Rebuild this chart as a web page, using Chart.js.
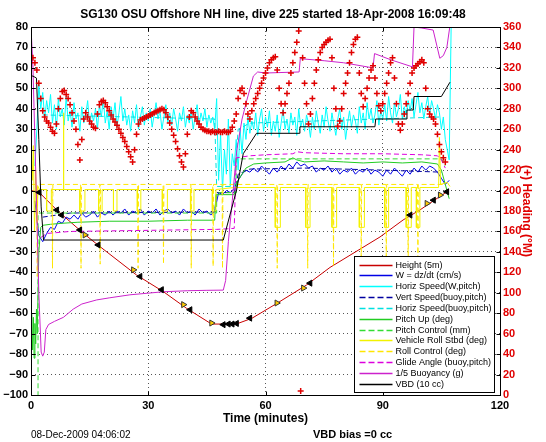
<!DOCTYPE html>
<html>
<head>
<meta charset="utf-8">
<title>SG130 dive 225</title>
<script src="https://cdn.jsdelivr.net/npm/chart.js@4.4.1/dist/chart.umd.min.js"></script>
<style>
  html, body { margin: 0; padding: 0; background: #fff; }
</style>
</head>
<body>
<canvas id="myChart" width="546" height="442"></canvas>
<script>
// x axis (minutes)
var xTicks = [0, 30, 60, 90, 120];

// Height (5m)
var heightT = [0.3, 2.1, 6.6, 13.4, 17.7, 27.0, 33.9, 39.8, 46.2, 52.5, 56.5, 62.9, 70.5, 76.5, 89.3, 95.2, 99.5, 106.4];
var heightV = [0, -0.9, -9.5, -20.9, -27.5, -41.3, -49.5, -57.6, -65.3, -65.3, -62.5, -55.2, -46.2, -37.6, -22.7, -14.4, -9.5, -0.6];

// triangle marks on the height trace
var blackMarkT = [2.1, 6.6, 7.8, 12.5, 17.2, 27.9, 33.4, 40.7, 49.2, 50.5, 51.5, 52.6, 56.0, 71.4, 97.0, 103.0, 106.4];
var blackMarkV = [-0.9, -9.5, -12, -19.3, -26.6, -42, -48.5, -58.3, -65.6, -65.3, -65.3, -65, -62.4, -45.3, -12, -4.7, -0.6];
var yellowMarkT = [13.8, 26.2, 39.0, 46.2, 62.9, 69.7, 101.3, 104.7];
var yellowMarkV = [-21.7, -38.8, -55.8, -64.8, -55, -47.7, -6.3, -2.2];

// W = dz/dt (cm/s), one sample per minute from t=1
var wStart = 1, wStep = 1;
var wVals = [
  -5, -22, -25, -21, -18, -19, -15, -16, -13, -14,
  -12, -14, -11, -13, -12, -10, -13, -11, -12, -10,
  -12, -10, -11, -9, -12, -10, -11, -9, -12, -10,
  -11, -9, -12, -10, -9, -11, -10, -12, -9, -11,
  -10, -12, -9, -11, -10, -12, -10,
  -1, -2, 0, -1, 1,
  5, 8, 10, 9, 11, 9, 12, 10,
  8, 11, 9, 12, 10, 13, 11, 14, 12, 13,
  11, 12, 9, 11, 10, 12, 9, 11, 8, 10,
  9, 11, 8, 10, 9, 11, 8, 10, 9, 7,
  10, 8, 11, 9, 7, 10, 8, 11, 9, 12,
  10, 12, 11, 9, 6, 3, 5
];

// Horiz Speed(W,pitch), every half minute from t=1
var hsStart = 1, hsStep = 0.5;
var horizSpeedW = [
  12, 30, 52, 40, 48, 35, 44, 38, 47, 33,
  42, 30, 45, 36, 40, 32, 46, 34, 39, 31,
  43, 35, 38, 29, 41, 33, 37, 44, 32, 38,
  34, 40, 30, 42, 36, 45, 33, 39, 30, 41,
  35, 43, 31, 38, 46, 34, 40, 32, 37, 29,
  39, 33, 42, 30, 36, 41, 32, 38, 34, 40,
  31, 37, 43, 35, 39, 30, 36, 42, 33, 38,
  32, 40, 35, 29, 38, 34, 41, 31, 37, 33,
  39, 30, 36, 42, 32, 38, 34, 40, 31, 37,
  33, 36, 30,
  45, 5, 28, 0, 20, 8, 35, 2, 18,
  12, 25, 10, 30, 18, 33, 25, 36, 28, 34,
  30, 38, 27, 35, 40, 29, 36, 31, 39, 27,
  34, 29, 37, 26, 33, 40, 30, 35, 28, 38,
  32, 36, 27, 40, 31, 35, 29, 37, 33, 26,
  36, 30, 39, 33, 28, 37, 31, 41, 34, 29,
  38, 32, 27, 35, 40, 30, 36, 25, 33, 39,
  31, 37, 34, 28, 41, 33, 38, 30, 43, 35,
  40, 33, 37, 44, 32, 39, 35, 42, 34, 46,
  38, 33, 43, 36, 40, 47, 35, 41, 37, 44,
  39, 45, 36, 42, 48, 38, 43, 35, 41, 46,
  37, 44, 40, 35, 42, 38, 30, 36, 25, 20,
  15, 80
];

// Vert Speed(buoy,pitch)
var vertBuoyT = [3, 10, 47, 47.5, 52, 53, 56, 70, 90, 105];
var vertBuoyV = [-13, -11, -10.5, -1, -1, 8, 10.5, 11, 10, 9];

// Horiz Speed(buoy,pitch)
var horizBuoyT = [3, 47, 47.5, 52, 53, 56, 105];
var horizBuoyV = [37, 35, 2, 2, 30, 33, 36];

// Pitch Up (deg)
var pitchT = [0.2, 0.4, 0.6, 0.8, 1.0, 1.2, 1.4, 1.6, 2.0, 2.5, 3, 5, 8, 12, 20, 30, 40, 47, 47.3, 52, 53, 55, 57, 60, 65, 67, 68, 70, 75, 80, 85, 90, 95, 100, 104, 105, 106, 107];
var pitchV = [-60, -78, -62, -82, -65, -75, -58, -70, -30, -18, -17, -16.5, -16, -15.5, -15, -15, -14.5, -14.5, -2, -2, 5, 11, 13, 13.5, 14, 16, 15, 14, 14.5, 14, 13.5, 14, 13.5, 14, 13, 10, 3, -4];

// Pitch Control (mm)
var pitchCtrlT = [0, 1.8, 1.8, 47.5, 47.5, 52.5, 52.5, 105, 106];
var pitchCtrlV = [-105, -105, -11, -11, -1, -1, 15.5, 15.5, 12];

// Vehicle Roll Stbd (deg)
var rollT = [0, 0.3, 0.6, 0.9, 1.2, 1.5, 1.8, 2.2, 4.0, 4.0, 5.2, 5.2, 8.2, 8.3, 8.4,
  12.5, 12.5, 13.8, 13.8, 17.3, 17.3, 18.2, 18.2, 21.1, 21.1, 22.0, 22.0, 27.2, 27.2, 28.1, 28.1,
  33.6, 33.6, 34.9, 34.9, 40.8, 40.8, 41.7, 41.7, 46.4, 46.4, 47.3, 47.3, 52,
  62.5, 62.5, 63.8, 63.8, 70.3, 70.3, 71.4, 71.4, 77.0, 77.0, 78.2, 78.2, 84.0, 84.0, 85.3, 85.3,
  90.5, 90.5, 91.5, 91.5, 96.0, 96.0, 97.3, 97.3, 98.6, 98.6, 99.5, 99.5,
  104.3, 104.5, 104.8, 106.5, 107.2];
var rollV = [20, 5, 22, -20, 10, -15, 2, 0.5, 0.5, -10, -10, 0.5, 0.5, 38, 0.5,
  0.5, -10, -10, 0.5, 0.5, -10, -10, 0.5, 0.5, -10, -10, 0.5, 0.5, -10, -10, 0.5,
  0.5, -10, -10, 0.5, 0.5, -10, -10, 0.5, 0.5, -10, -10, 0.5, 1.5,
  1.5, -18, -18, 1.5, 1.5, -18, -18, 1.5, 1.5, -18, -18, 1.5, 1.5, -18, -18, 1.5,
  1.5, -18, -18, 1.5, 1.5, -18, -18, 1.5, 1.5, -18, -18, 1.5,
  1.5, 26, 3, 4, 2];

// Roll Control (deg)
var rollCtrlT = [0, 1.5, 1.6, 1.7, 5.4, 5.5, 5.6, 12.7, 12.8, 12.9, 17.6, 17.7, 17.8, 27.3, 27.4, 27.5,
  33.8, 33.9, 34.0, 40.9, 41.0, 41.1, 46.5, 46.6, 46.7, 48.9, 49.0, 49.1,
  62.9, 63.0, 63.1, 70.7, 70.8, 70.9, 77.3, 77.4, 77.5, 84.4, 84.5, 84.6,
  90.8, 90.9, 91.0, 96.4, 96.5, 96.6, 98.9, 99.0, 99.1, 106];
var rollCtrlV = [3, 3, -42, 3, 3, -38, 3, 3, -38, 3, 3, -36, 3, 3, -38, 3,
  3, -36, 3, 3, -38, 3, 3, -37, 3, 3, -38, 3,
  3, -38, 3, 3, -38, 3, 3, -37, 3, 3, -38, 3,
  3, -36, 3, 3, -38, 3, 3, -37, 3, 3];

// Glide Angle (buoy,pitch)
var glideT = [2.5, 4, 10, 47, 47.5, 52, 52.5, 56, 60, 67, 68, 70, 80, 90, 100, 104, 105, 106];
var glideV = [-23, -21, -20, -19, -19, -18.5, 16, 17, 17.5, 18, 19, 18.5, 18, 18, 17.5, 17, 15, 11];

// 1/5 Buoyancy (g)
var buoyT = [0, 0.5, 1.2, 2.0, 2.6, 3.0, 3.4, 3.8, 4.5, 6, 8.3, 10.8, 13, 16.8, 20, 25.3, 33.9, 40, 45, 49.2,
  49.8, 50.5, 51.5, 52.6, 54, 55.2, 56.9, 58, 60, 68.6, 68.9, 75, 80, 87.5, 87.9,
  92, 97.6, 98.0, 100, 102.9, 104.6, 105.5, 106.4, 107.3];
var buoyV = [80, 60, 10, -50, -79, -81, -79, -68, -65.5, -64, -62, -58, -55.5, -53.5, -52.5, -51, -49.5, -49, -48.8, -48.7,
  -44, -25, -5, 19, 35, 44, 56, 58, 57.5, 58, 64.5, 63.5, 62.5, 60, 67,
  64, 60.5, 80, 79.5, 78.5, 64.7, 66, 70, 82];

// VBD (10 cc)
var vbdT = [0, 0.5, 1.4, 2.0, 2.6, 3.2, 49.2, 52.6, 54.3, 57.7, 68.6, 68.8, 88.0, 88.2, 96.0, 96.2, 97.8, 98.0, 105.0, 107.2];
var vbdV = [56, 56, 55, 25, -8, -24.2, -24.2, 0.3, 18, 28, 28, 31.2, 31.2, 35, 35, 39.4, 39.4, 46, 46, 53];

// (+) Heading (deg M), every half minute from t=0.5
var hdgStart = 0.5, hdgStep = 0.5;
var headingDeg = [
  330, 325, 318, 305, 290, 278, 272, 268, 266, 262,
  258, 256, 265, 280, 290, 297, 298, 294, 290, 284,
  276, 268, 260, 245, 230, 250, 270, 276, 272, 268,
  265, 262, 261, 275, 284, 287, 288, 286, 282, 278,
  274, 270, 267, 264, 260, 256, 252, 248, 243, 238,
  233, 228, 240, 255, 265, 269, 270, 271, 272, 273,
  274, 275, 276, 277, 278, 279, 280, 279, 276, 272,
  266, 260, 254, 248, 241, 234, 228, 223, 236, 255,
  272, 278, 276, 272, 268, 265, 262, 260, 259, 258,
  258, 257, 258, 257, 257, 258, 257, 257, 258, 257,
  257, 258, 262, 268, 275, 290, 298, 300, 295, 285,
  275, 270, 278, 285, 290, 295, 300, 305, 310, 315,
  320, 325, 328, 330, 331, 318, 300, 285, 276, 285,
  295, 305, 315, 325, 335, 345, 356, 4, 330, 305,
  285, 265, 275, 290, 305, 318, 328, 335, 340, 343,
  345, 347, 348, 330, 300, 280, 263, 268, 280, 295,
  305, 315, 325, 335, 343, 348, 350, 315, 295, 282,
  290, 300, 310, 318, 322, 310, 295, 283, 278, 285,
  295, 305, 315, 325, 330, 310, 285, 265, 259, 265,
  275, 285, 295, 305, 315, 320, 322, 324, 326, 328,
  325, 300, 280, 275, 272, 270, 265, 255, 245, 238, 232, 228
];

var FONT = '"Liberation Sans", Arial, Helvetica, sans-serif';

function pairs(ts, vs) {
  return ts.map(function (t, i) { return { x: t, y: vs[i] }; });
}
function sampled(start, step, vs) {
  return vs.map(function (v, i) { return { x: start + i * step, y: v }; });
}
function lineSet(label, pts, color, dashed, order) {
  return {
    label: label, data: pts, borderColor: color, backgroundColor: color,
    borderWidth: 1, borderDash: dashed ? [5, 3] : [], pointRadius: 0,
    tension: 0, clip: 0, order: order, inLegend: true
  };
}

var datasets = [
  lineSet('Height (5m)', pairs(heightT, heightV), '#c80000', false, 13),
  lineSet('W = dz/dt (cm/s)', sampled(wStart, wStep, wVals), '#0000e6', false, 12),
  lineSet('Horiz Speed(W,pitch)', sampled(hsStart, hsStep, horizSpeedW), '#00ffff', false, 11),
  lineSet('Vert Speed(buoy,pitch)', pairs(vertBuoyT, vertBuoyV), '#0000a0', true, 10),
  lineSet('Horiz Speed(buoy,pitch)', pairs(horizBuoyT, horizBuoyV), '#00e0e0', true, 9),
  lineSet('Pitch Up (deg)', pairs(pitchT, pitchV), '#22cc22', false, 8),
  lineSet('Pitch Control (mm)', pairs(pitchCtrlT, pitchCtrlV), '#33dd33', true, 7),
  lineSet('Vehicle Roll Stbd (deg)', pairs(rollT, rollV), '#f2f200', false, 6),
  lineSet('Roll Control (deg)', pairs(rollCtrlT, rollCtrlV), '#ffe600', true, 5),
  lineSet('Glide Angle (buoy,pitch)', pairs(glideT, glideV), '#dd00dd', true, 4),
  lineSet('1/5 Buoyancy (g)', pairs(buoyT, buoyV), '#cc22cc', false, 3),
  lineSet('VBD (10 cc)', pairs(vbdT, vbdV), '#000000', false, 2),
  {
    label: 'marks', data: pairs(blackMarkT, blackMarkV), showLine: false,
    pointStyle: 'triangle', pointRotation: -90, pointRadius: 3.5,
    borderColor: '#000', backgroundColor: '#000', borderWidth: 1, clip: 0, order: 1
  },
  {
    label: 'marks2', data: pairs(yellowMarkT, yellowMarkV), showLine: false,
    pointStyle: 'triangle', pointRotation: 90, pointRadius: 3.5,
    borderColor: '#333', backgroundColor: '#ffcc00', borderWidth: 1, clip: 0, order: 1
  },
  {
    label: 'heading', data: sampled(hdgStart, hdgStep, headingDeg), yAxisID: 'y2', showLine: false,
    pointStyle: 'cross', pointRadius: 3, borderColor: '#e00000', backgroundColor: '#e00000',
    borderWidth: 1.5, clip: 0, order: 0
  }
];

// box round the axes, ticks pointing in (matlab look)
var axesBox = {
  id: 'axesBox',
  afterDatasetsDraw: function (chart) {
    var a = chart.chartArea, ctx = chart.ctx;
    var sx = chart.scales.x, sy = chart.scales.y, sy2 = chart.scales.y2;
    var L = Math.round(a.left) + 0.5, R = Math.round(a.right) + 0.5;
    var T = Math.round(a.top) + 0.5, B = Math.round(a.bottom) + 0.5;
    ctx.save();
    ctx.strokeStyle = '#000';
    ctx.lineWidth = 1;
    ctx.beginPath();
    sx.ticks.forEach(function (t) {
      var px = Math.round(sx.getPixelForValue(t.value)) + 0.5;
      ctx.moveTo(px, B); ctx.lineTo(px, B - 4);
      ctx.moveTo(px, T); ctx.lineTo(px, T + 4);
    });
    sy.ticks.forEach(function (t) {
      var py = Math.round(sy.getPixelForValue(t.value)) + 0.5;
      ctx.moveTo(L, py); ctx.lineTo(L + 4, py);
    });
    sy2.ticks.forEach(function (t) {
      var py = Math.round(sy2.getPixelForValue(t.value)) + 0.5;
      ctx.moveTo(R, py); ctx.lineTo(R - 4, py);
    });
    ctx.stroke();
    ctx.strokeRect(L, T, R - L, B - T);
    ctx.restore();
  }
};

// legend box inside the plot, lower right
var legendBox = {
  id: 'legendBox',
  afterDraw: function (chart) {
    var a = chart.chartArea, ctx = chart.ctx;
    var items = chart.data.datasets.filter(function (d) { return d.inLegend; });
    var w = 140, rowH = 10.85;
    var h = Math.round(items.length * rowH + 6);
    var x0 = Math.round(a.right - 146) + 0.5, y0 = Math.round(a.bottom - 3 - h) + 0.5;
    ctx.save();
    ctx.fillStyle = '#fff';
    ctx.fillRect(x0, y0, w, h);
    ctx.strokeStyle = '#000';
    ctx.lineWidth = 1;
    ctx.strokeRect(x0, y0, w, h);
    ctx.font = '9px ' + FONT;
    ctx.textBaseline = 'middle';
    ctx.textAlign = 'left';
    items.forEach(function (d, i) {
      var y = Math.round(y0 + 8 + i * rowH) + 0.5;
      ctx.beginPath();
      ctx.setLineDash(d.borderDash.length ? [6, 3] : []);
      ctx.strokeStyle = d.borderColor;
      ctx.lineWidth = 1.5;
      ctx.moveTo(x0 + 5, y);
      ctx.lineTo(x0 + 38, y);
      ctx.stroke();
      ctx.setLineDash([]);
      ctx.fillStyle = '#000';
      ctx.fillText(d.label, x0 + 41, y);
    });
    ctx.restore();
  }
};

// date stamp and vbd bias under the axis
var footNotes = {
  id: 'footNotes',
  afterDraw: function (chart) {
    var ctx = chart.ctx, a = chart.chartArea;
    ctx.save();
    ctx.fillStyle = '#000';
    ctx.textBaseline = 'middle';
    ctx.textAlign = 'left';
    ctx.font = '10px ' + FONT;
    ctx.fillText('08-Dec-2009 04:06:02', a.left, 435);
    ctx.font = 'bold 11px ' + FONT;
    ctx.fillText('VBD bias =0 cc', 313, 435);
    ctx.restore();
  }
};

var tickFont = { family: FONT, size: 11, weight: 'bold' };
var dotted = { color: '#555', lineWidth: 1 };

var ctx = document.getElementById('myChart').getContext('2d');
var chart = new Chart(ctx, {
  type: 'line',
  data: { datasets: datasets },
  options: {
    responsive: false,
    animation: false,
    devicePixelRatio: 1,
    events: [],
    layout: { padding: 0 },
    plugins: {
      legend: { display: false },
      tooltip: { enabled: false },
      title: {
        display: true,
        text: 'SG130 OSU Offshore NH line, dive 225 started 18-Apr-2008 16:09:48',
        color: '#000',
        font: { family: FONT, size: 12, weight: 'bold' },
        padding: { top: 7, bottom: 5.6 }
      }
    },
    scales: {
      x: {
        type: 'linear', min: xTicks[0], max: xTicks[xTicks.length - 1],
        afterBuildTicks: function (s) { s.ticks = xTicks.map(function (v) { return { value: v }; }); },
        afterFit: function (s) { s.height = 47; },
        ticks: { font: tickFont, color: '#000', padding: 4, maxRotation: 0, autoSkip: false },
        grid: { color: dotted.color, lineWidth: 1, drawTicks: false },
        border: { display: false, dash: [1, 3] },
        title: {
          display: true, text: 'Time (minutes)', color: '#000',
          font: { family: FONT, size: 12, weight: 'bold' },
          padding: { top: 0, bottom: 16 }
        }
      },
      y: {
        position: 'left', min: -100, max: 80,
        afterFit: function (s) { s.width = 31; },
        ticks: {
          stepSize: 10, font: tickFont, color: '#000', padding: 3, autoSkip: false,
          callback: function (v) { return String(v).replace('-', '\u2212'); }
        },
        grid: { color: dotted.color, lineWidth: 1, drawTicks: false },
        border: { display: false, dash: [1, 3] }
      },
      y2: {
        position: 'right', min: 0, max: 360,
        afterFit: function (s) { s.width = 46; },
        ticks: { stepSize: 20, font: tickFont, color: '#e00000', padding: 3, autoSkip: false },
        grid: { drawOnChartArea: false, drawTicks: false },
        border: { display: false },
        title: {
          display: true, text: '(+) Heading (\u00b0M)', color: '#e00000',
          font: { family: FONT, size: 12, weight: 'bold' },
          padding: { top: 12, bottom: 0 }
        }
      }
    }
  },
  plugins: [axesBox, legendBox, footNotes]
});
</script>
</body>
</html>
